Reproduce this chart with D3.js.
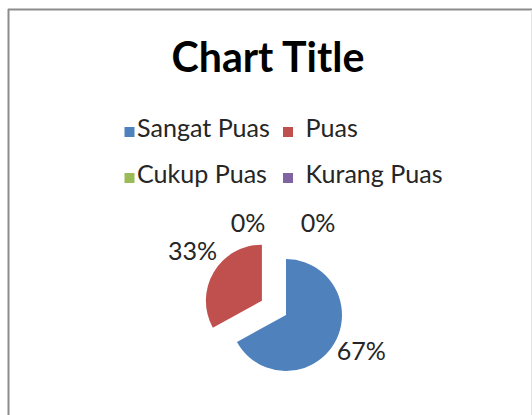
<!DOCTYPE html>
<html>
<head>
<meta charset="utf-8">
<script src="https://cdn.jsdelivr.net/npm/d3@7"></script>
<style>
  body { margin: 0; background: #fff; }
  svg { display: block; font-family: Lato, "Open Sans", sans-serif; }
</style>
</head>
<body>
<svg id="chart" width="532" height="415"></svg>
<script>
const categories = ["Sangat Puas", "Puas", "Cukup Puas", "Kurang Puas"];
const values = [67, 33, 0, 0];
const colors = ["#4F81BD", "#C0504D", "#9BBB59", "#8064A2"];
const titleText = "Chart Title";

const svg = d3.select("#chart");
const width = +svg.attr("width");
const height = +svg.attr("height");

svg.append("rect")
    .attr("width", width)
    .attr("height", height)
    .attr("fill", "#fff");

// chart area frame (right and bottom run off the picture)
svg.append("line")
    .attr("x1", 8.5).attr("y1", 9)
    .attr("x2", 8.5).attr("y2", height)
    .attr("stroke", "#8c8c8c").attr("stroke-width", 2);
svg.append("line")
    .attr("x1", 8).attr("y1", 9.5)
    .attr("x2", width).attr("y2", 9.5)
    .attr("stroke", "#8c8c8c").attr("stroke-width", 2);
svg.append("line")
    .attr("x1", 531.5).attr("y1", 10)
    .attr("x2", 531.5).attr("y2", height)
    .attr("stroke", "#e4e4e4").attr("stroke-width", 1);

// fit a text to a target width by adjusting font size
function fitText(sel, targetWidth) {
    const fs = parseFloat(sel.style("font-size"));
    const w = sel.node().getComputedTextLength();
    sel.style("font-size", (fs * targetWidth / w) + "px");
}

const title = svg.append("text")
    .attr("x", 268)
    .attr("y", 72)
    .attr("text-anchor", "middle")
    .style("font-size", "38px")
    .style("font-weight", "bold")
    .style("fill", "#000")
    .text(titleText);
fitText(title, 193);

// legend
const legend = svg.append("g").attr("transform", "translate(124.5, 137)");
const legendItems = legend.selectAll("g")
    .data(categories)
    .join("g")
    .attr("transform", (d, i) => `translate(${(i % 2) * 158.5}, ${Math.floor(i / 2) * 46})`);

legendItems.append("rect")
    .attr("x", 0)
    .attr("y", -10)
    .attr("width", 10)
    .attr("height", 10)
    .attr("fill", (d, i) => colors[i]);

const legendTexts = legendItems.append("text")
    .attr("x", (d, i) => i % 2 ? 22.5 : 12.5)
    .attr("y", 0)
    .style("font-size", "20px")
    .style("fill", "#262626")
    .text(d => d);

// size legend font from "Sangat Puas" width
const probe = legendTexts.filter((d, i) => i === 0);
fitText(probe, 133);
legendTexts.style("font-size", probe.style("font-size"));

// pie
const cx = 286, cy = 315, radius = 56;
const explode = 28;
const labelRadius = 84;

const pie = d3.pie().sort(null).value(d => d);
const arcs = pie(values);
const arc = d3.arc().innerRadius(0).outerRadius(radius);

const total = d3.sum(values);
const pieG = svg.append("g").attr("transform", `translate(${cx}, ${cy})`);

function offsetOf(d, i) {
    if (i === 0 || d.value === 0) return [0, 0];
    const a = (d.startAngle + d.endAngle) / 2;
    return [Math.sin(a) * explode, -Math.cos(a) * explode];
}

pieG.selectAll("path")
    .data(arcs)
    .join("path")
    .attr("transform", (d, i) => {
        const o = offsetOf(d, i);
        return `translate(${o[0]}, ${o[1]})`;
    })
    .attr("d", arc)
    .attr("fill", (d, i) => colors[i]);

// data labels; the two empty slices sit side by side above the pie
const zeroShift = [0, 0, -38, 32];
pieG.selectAll("text.label")
    .data(arcs)
    .join("text")
    .attr("class", "label")
    .attr("transform", (d, i) => {
        const o = offsetOf(d, i);
        const a = (d.startAngle + d.endAngle) / 2;
        const r = d.value === 0 ? labelRadius + 8 : labelRadius;
        const x = o[0] + Math.sin(a) * r + zeroShift[i] + (d.value ? 3 : 0);
        const y = o[1] - Math.cos(a) * r - (d.value ? 7 : 0);
        return `translate(${x}, ${y})`;
    })
    .attr("text-anchor", "middle")
    .attr("dy", "0.35em")
    .style("font-size", probe.style("font-size"))
    .style("fill", "#262626")
    .text(d => Math.round(d.value / total * 100) + "%");
</script>
</body>
</html>
